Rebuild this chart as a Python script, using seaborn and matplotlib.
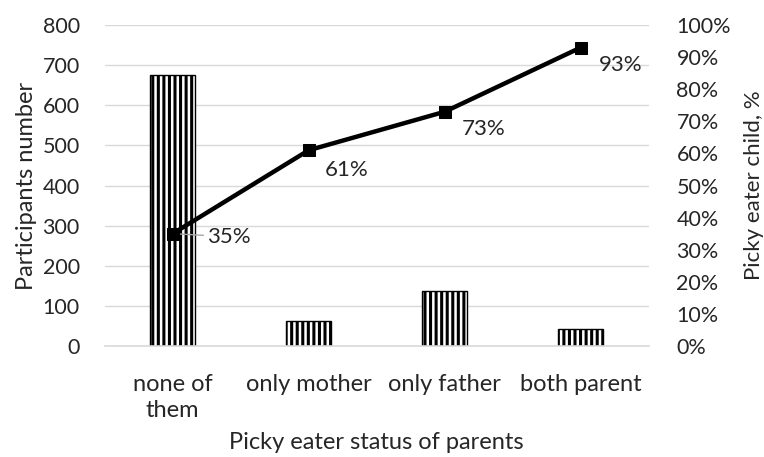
import matplotlib
matplotlib.use("Agg")
import matplotlib.pyplot as plt
from matplotlib.ticker import FuncFormatter, MultipleLocator
import seaborn as sns
import pandas as pd

# Data
categories = ["none of\nthem", "only mother", "only father", "both parent"]
participants = [675, 63, 138, 43]
picky_pct = [35, 61, 73, 93]

sns.set_theme(style="white")
plt.rcParams["font.family"] = ["Lato", "DejaVu Sans"]
plt.rcParams["hatch.linewidth"] = 2.2
plt.rcParams["hatch.color"] = "black"

TXT = "#262626"
GRID = "#d9d9d9"
FS_NUM = 15.5
FS_TXT = 17

df = pd.DataFrame({"status": categories, "n": participants, "pct": picky_pct})

fig = plt.figure(figsize=(7.64, 4.57), dpi=100)
ax = fig.add_axes([0.137, 0.243, 0.712, 0.702])

sns.barplot(data=df, x="status", y="n", ax=ax, color="white", width=0.33,
            edgecolor="black", linewidth=1.0, hatch="|||", saturation=1, zorder=2)

ax.set_ylim(0, 800)
ax.yaxis.set_major_locator(MultipleLocator(100))
ax.grid(axis="y", color=GRID, linewidth=1.0, zorder=0)
ax.set_axisbelow(True)
for s in ["top", "right", "left"]:
    ax.spines[s].set_visible(False)
ax.spines["bottom"].set_color(GRID)
ax.spines["bottom"].set_linewidth(1.2)
ax.tick_params(axis="y", length=0, labelsize=FS_NUM, colors=TXT, pad=18)
ax.tick_params(axis="x", length=0, labelsize=FS_TXT, colors=TXT, pad=20)
for t in ax.get_xticklabels():
    t.set_linespacing(1.3)
ax.set_xlabel("Picky eater status of parents", fontsize=FS_TXT, color=TXT, labelpad=8)
ax.set_ylabel("Participants number", fontsize=FS_TXT, color=TXT, labelpad=4)
ax.set_xlim(-0.5, 3.5)

ax2 = ax.twinx()
sns.lineplot(data=df, x="status", y="pct", ax=ax2, color="black", linewidth=3.2,
             marker="s", markersize=8, markeredgecolor="black", sort=False, zorder=5)
ax2.set_ylim(0, 100)
ax2.yaxis.set_major_locator(MultipleLocator(10))
ax2.yaxis.set_major_formatter(FuncFormatter(lambda v, p: f"{v:.0f}%"))
for s in ax2.spines.values():
    s.set_visible(False)
ax2.tick_params(axis="y", length=0, labelsize=FS_NUM, colors=TXT, pad=20)
ax2.set_ylabel("Picky eater child, %", fontsize=16, color=TXT)
ax2.yaxis.set_label_coords(1.176, 0.5)
ax2.set_xlabel("")
ax2.set_xlim(-0.5, 3.5)

# Data labels for the line (offsets in pixels)
offsets = [(34, -3), (38, -20), (39, -17), (40, -17)]
for i, (v, off) in enumerate(zip(picky_pct, offsets)):
    kw = {}
    if i == 0:
        kw["arrowprops"] = dict(arrowstyle="-", color="#a6a6a6", lw=1.0, shrinkA=0, shrinkB=0)
    ax2.annotate(f"{v}%", xy=(i, v), xytext=off, textcoords="offset pixels",
                 ha="left" if i == 0 else "center", va="center",
                 fontsize=16, color=TXT, **kw)

fig.savefig("out.png", dpi=100)
